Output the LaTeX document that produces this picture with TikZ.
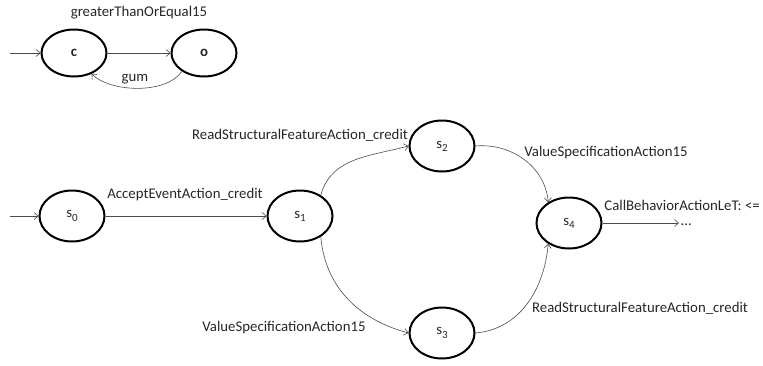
\documentclass[tikz,border=0pt]{standalone}
\usepackage{fontspec}
\setmainfont{Carlito}
\usetikzlibrary{shapes.geometric,arrows.meta}
\newcommand{\stname}[1]{s\raisebox{-0.45ex}{\fontsize{11}{11}\selectfont #1}}
\begin{document}
\begin{tikzpicture}[x=1pt,y=-1pt,
  font=\fontsize{14.8}{16}\selectfont,
  state/.style={ellipse, draw=black, line width=2pt, minimum width=65pt, minimum height=51pt, inner sep=0pt, text=black!85},
  smallstate/.style={state, minimum height=47pt},
  edge/.style={draw=black!70, line width=0.6pt, -{Straight Barb[length=4pt,width=7pt]}},
  lbl/.style={text=black!85, inner sep=1pt}]
\useasboundingbox (0,0) rectangle (763,365);
% top automaton
\node[smallstate] (c) at (74,53) {\textbf{c}};
\node[smallstate] (o) at (204,53) {\textbf{o}};
\coordinate (ic) at (10,53);
\draw[edge] (ic) -- (c);
\draw[edge] (c) -- (o);
\draw[edge] (o.-140) .. controls (165,95) and (110,92) .. (c.-50);
\node[lbl] (lg) at (139,13) {greaterThanOrEqual15};
\node[lbl] (lgum) at (135,79) {gum};
% main automaton
\node[state] (s0) at (72,216) {\stname{0}};
\node[state] (s1) at (300,216) {\stname{1}};
\node[state] (s2) at (442,146) {\stname{2}};
\node[state] (s3) at (442,333) {\stname{3}};
\node[state] (s4) at (569,223) {\stname{4}};
\coordinate (is) at (10,216);
\coordinate (dots) at (679,223);
\draw[edge] (is) -- (s0);
\draw[edge] (s0) -- (s1);
\draw[edge] (s1.45) to[out=75,in=195] (s2.west);
\draw[edge] (s2.east) to[out=5,in=95] (s4.135);
\draw[edge] (s1.-45) to[out=-85,in=165] (s3.west);
\draw[edge] (s3.east) to[out=5,in=-95] (s4.-135);
\draw[edge] (s4.east) -- (dots);
\node[lbl, anchor=west] (ld) at (680,225) {\ldots};
\node[lbl] (l01) at (185,195) {AcceptEventAction\_credit};
\node[lbl] (l12) at (300,135) {ReadStructuralFeatureAction\_credit};
\node[lbl] (l24) at (606,153) {ValueSpecificationAction15};
\node[lbl] (l13) at (284,328) {ValueSpecificationAction15};
\node[lbl] (l34) at (640,308) {ReadStructuralFeatureAction\_credit};
\node[lbl, anchor=east] (l4) at (761,205) {CallBehaviorActionLeT: <=};
\end{tikzpicture}
\end{document}
